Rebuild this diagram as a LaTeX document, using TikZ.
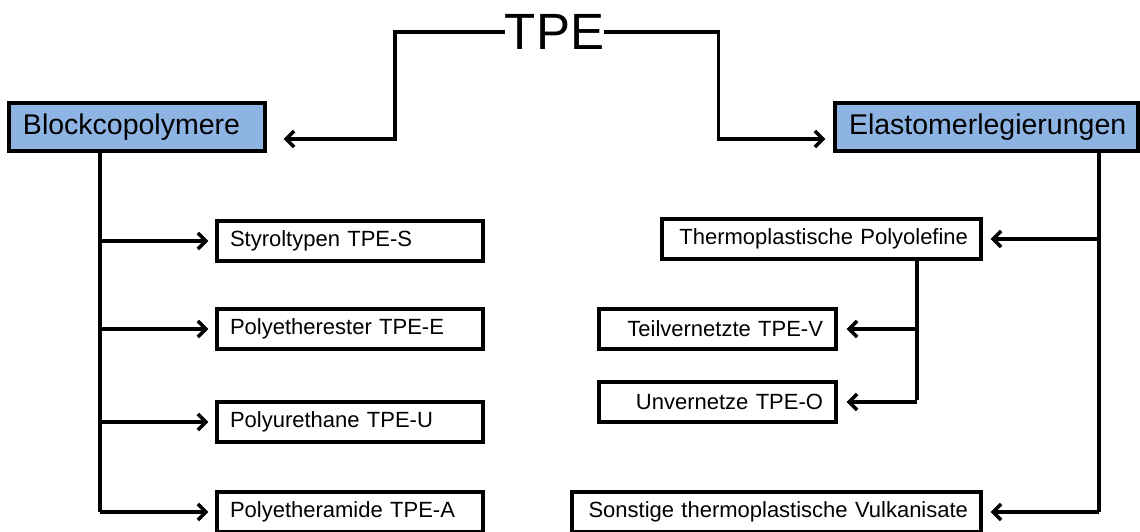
\documentclass[tikz,border=0pt]{standalone}
\usepackage{fontspec}
\setmainfont{Liberation Sans}
\usetikzlibrary{arrows.meta}

\definecolor{headblue}{HTML}{8DB4E2}

\tikzset{
   conn/.style={line width=3.6pt, line join=miter},
   toarr/.style={conn, -{Straight Barb[length=8pt,width=16pt,line width=3.6pt]}},
   head/.style={draw, fill=headblue, line width=3.2pt, minimum height=48pt,
                inner xsep=14pt, inner ysep=0pt, align=left,
                font=\fontsize{28.5}{30}\selectfont},
   leaf/.style={draw, fill=white, line width=3.2pt, minimum height=40pt,
                inner xsep=13pt, inner ysep=0pt,
                font=\fontsize{22}{24}\selectfont},
}

\begin{document}
\begin{tikzpicture}[x=1pt,y=-1pt]

   \useasboundingbox (0,0) rectangle (1140,532);

   % Nodes
      \node[inner sep=0pt, font=\fontsize{51}{52}\selectfont] (tpe) at (554.5,32) {TPE};
      \node[head, text width=228pt]  (block) at (137,127)   {Blockcopolymere};
      \node[head, text width=275pt]  (elast) at (986.5,127) {Elastomerlegierungen};

      \node[leaf, text width=240pt, align=left]  (styrol) at (350,241) {Styroltypen TPE-S};
      \node[leaf, text width=240pt, align=left]  (ester)  at (350,329) {Polyetherester TPE-E};
      \node[leaf, text width=240pt, align=left]  (ureth)  at (350,422) {Polyurethane TPE-U};
      \node[leaf, text width=240pt, align=left]  (amid)   at (350,512) {Polyetheramide TPE-A};

      \node[leaf, text width=293pt, align=right] (tpo)    at (821.5,239) {Thermoplastische Polyolefine};
      \node[leaf, text width=211pt, align=right] (teil)   at (717.5,329) {Teilvernetzte TPE-V};
      \node[leaf, text width=211pt, align=right] (unver)  at (717.5,402) {Unvernetze TPE-O};
      \node[leaf, text width=383pt, align=right] (sonst)  at (776.5,512) {Sonstige thermoplastische Vulkanisate};

   % Spines
      \coordinate (lspine) at (100,512);
      \coordinate (rspine) at (1099,512);
      \coordinate (tspine) at (917,400);

   % Paths
      \draw[toarr] (tpe.west) -- ++(-110,0) |- ([xshift=17pt,yshift=-12pt]block.east);
      \draw[toarr] (tpe.east) -- ++(114,0) |- ([xshift=-8pt,yshift=-12pt]elast.west);

      \draw[conn] (block.south -| lspine) -- (lspine);
      \foreach \n in {styrol,ester,ureth,amid}
         \draw[toarr] (lspine |- \n) -- ([xshift=-7pt]\n.west);

      \draw[conn] (elast.south -| rspine) -- (rspine);
      \foreach \n in {tpo,sonst}
         \draw[toarr] (rspine |- \n) -- ([xshift=8pt]\n.east);

      \draw[conn] (tpo.south -| tspine) -- (tspine);
      \foreach \n in {teil,unver}
         \draw[toarr] (tspine |- \n) -- ([xshift=9pt]\n.east);

\end{tikzpicture}
\end{document}
